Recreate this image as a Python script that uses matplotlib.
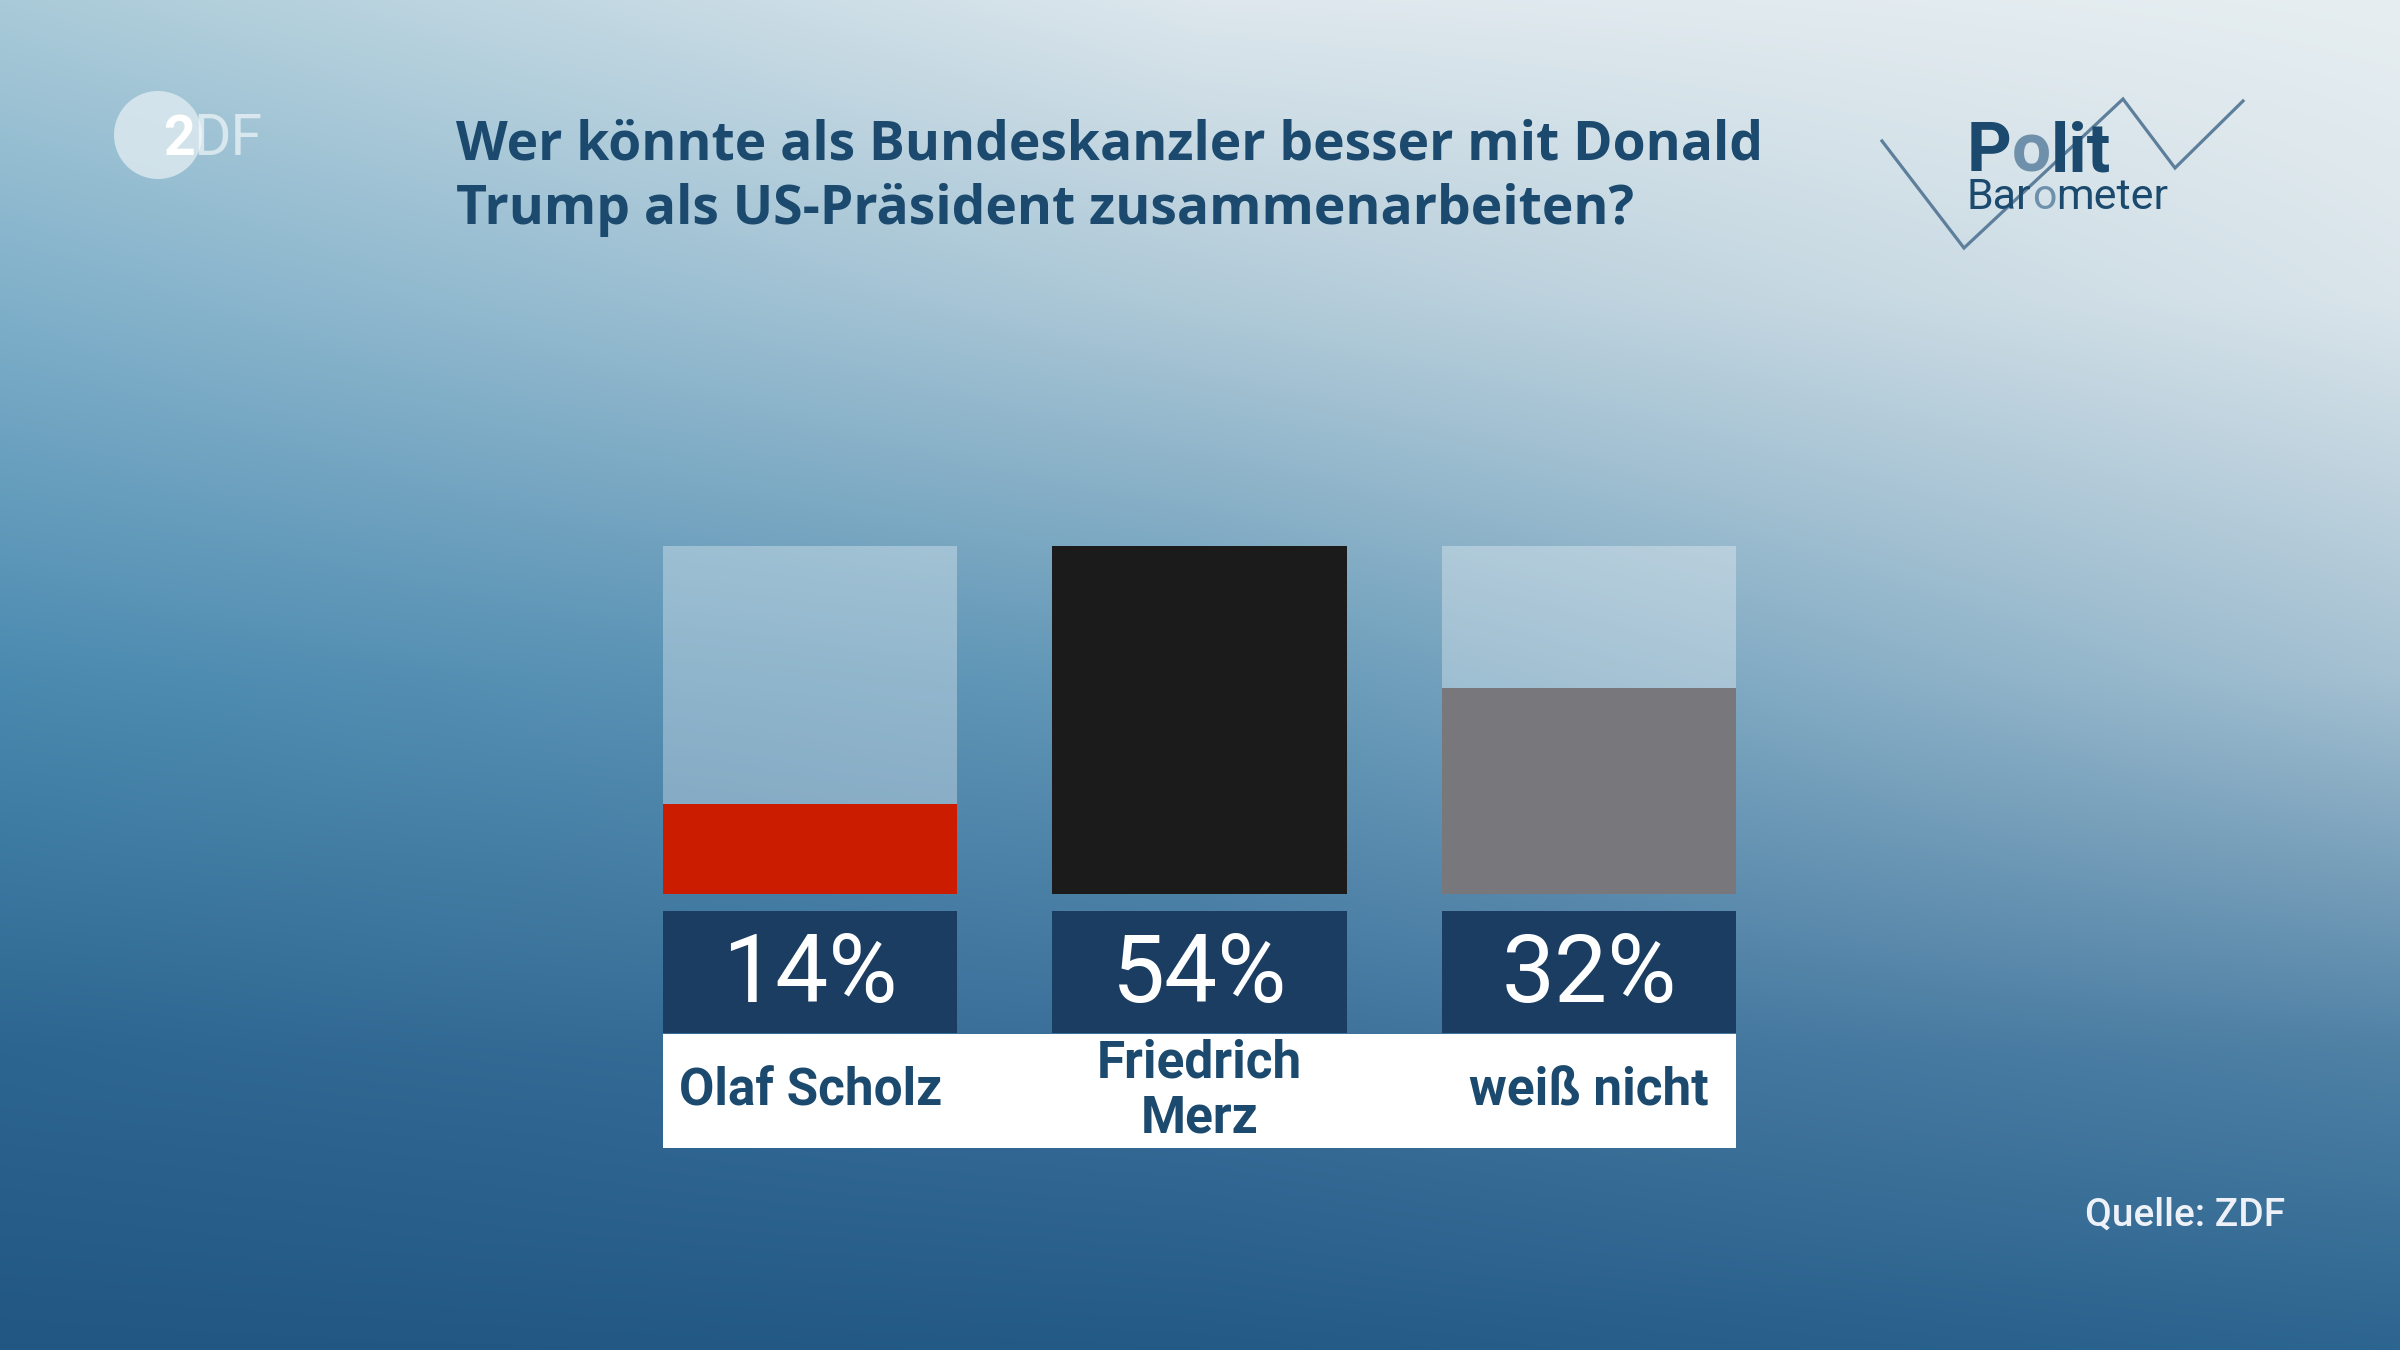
import numpy as np
import matplotlib
matplotlib.use("Agg")
import matplotlib.pyplot as plt
from matplotlib.colors import to_rgb
from matplotlib.patches import Rectangle, Circle
from matplotlib.transforms import blended_transform_factory

categories = ["Olaf Scholz", "Friedrich\nMerz", "weiß nicht"]
values = [14, 54, 32]
value_labels = ["14%", "54%", "32%"]
bar_colors = ["#cc1c00", "#1b1b1b", "#78787c"]
title_lines = ["Wer könnte als Bundeskanzler besser mit Donald",
               "Trump als US-Präsident zusammenarbeiten?"]
source_text = "Quelle: ZDF"

TEXT_BLUE = "#1b4a6e"
BOX_BLUE = "#1c3d62"
FONT = "Roboto"
TITLE_FONT = "Open Sans"

# background gradient control colours (rows top->bottom, cols left->right)
bg_y = [0.0, 0.22, 0.5, 0.78, 1.0]
bg_x = [0.0, 0.5, 1.0]
bg_hex = [
    ["#a9cad8", "#dde7ed", "#e6eef1"],
    ["#80b0ca", "#b0cad8", "#dae5eb"],
    ["#4b8ab0", "#6599b8", "#a5c1d2"],
    ["#2c6690", "#3a6f9a", "#4f81a5"],
    ["#225683", "#245a86", "#2c6590"],
]


def gradient(h=270, w=480):
    ctrl = np.array([[to_rgb(c) for c in row] for row in bg_hex])
    xs = np.linspace(0, 1, w)
    ys = np.linspace(0, 1, h)
    rows = np.zeros((len(bg_y), w, 3))
    for i in range(len(bg_y)):
        for ch in range(3):
            rows[i, :, ch] = np.interp(xs, bg_x, ctrl[i, :, ch])
    img = np.zeros((h, w, 3))
    for j in range(w):
        for ch in range(3):
            img[:, j, ch] = np.interp(ys, bg_y, rows[:, j, ch])
    return img


fig = plt.figure(figsize=(24, 13.5), dpi=100)
ax_bg = fig.add_axes([0, 0, 1, 1])
ax_bg.set_xlim(0, 2400)
ax_bg.set_ylim(1350, 0)
ax_bg.axis("off")
ax_bg.imshow(gradient(), extent=[0, 2400, 1350, 0], aspect="auto",
             interpolation="bilinear", zorder=0)

renderer = fig.canvas.get_renderer()


def text_width(s, **kw):
    t = ax_bg.text(0, 0, s, **kw)
    w = t.get_window_extent(renderer=renderer).width
    t.remove()
    return w


def draw_pieces(x, y, pieces, **kw):
    done = ""
    for s, c in pieces:
        done += s
        px = x + text_width(done, **kw) - text_width(s, **kw) if done != s else x
        ax_bg.text(px, y, s, color=c, ha="left", va="baseline", zorder=3, **kw)


# ZDF logo
ax_bg.add_patch(Circle((158, 135), 44, color="#e4eef3", alpha=0.75, lw=0, zorder=2))
ax_bg.text(163, 155, "2", color="white", fontsize=40, fontweight="bold",
           family=FONT, va="baseline", zorder=3)
ax_bg.text(193, 155, "DF", color=(1, 1, 1, 0.6), fontsize=41,
           family=FONT, va="baseline", zorder=3)

# title
ax_bg.text(456, 159, title_lines[0], color=TEXT_BLUE, fontsize=38.5,
           fontweight="bold", family=TITLE_FONT, va="baseline", zorder=3)
ax_bg.text(456, 224, title_lines[1], color=TEXT_BLUE, fontsize=38.5,
           fontweight="bold", family=TITLE_FONT, va="baseline", zorder=3)

# Politbarometer logo
ax_bg.plot([1882, 1964, 2123, 2175, 2243], [141, 248, 99, 168, 101],
           color="#5d7f9b", lw=2.3, zorder=2, solid_joinstyle="miter")
draw_pieces(1967, 171, [("P", TEXT_BLUE), ("o", "#6f90aa"), ("lit", TEXT_BLUE)],
            fontsize=50, fontweight="bold", family=FONT)
draw_pieces(1967, 209, [("Bar", TEXT_BLUE), ("o", "#6f90aa"), ("meter", TEXT_BLUE)],
            fontsize=31, family=FONT)

# source
ax_bg.text(2285, 1226, source_text, color="#eef2f8", fontsize=28,
           fontweight="medium", family=FONT, ha="right", va="baseline")

# bars
ax = fig.add_axes([663 / 2400, 1 - 894 / 1350, (1736 - 663) / 2400, (894 - 546) / 1350])
ax.axis("off")
x = np.arange(len(categories))
w = 0.756
vmax = max(values)
ax.bar(x, [vmax] * len(x), width=w, color="white", alpha=0.32, lw=0)
ax.bar(x, values, width=w, color=bar_colors, lw=0)
ax.set_xlim(-w / 2, len(x) - 1 + w / 2)
ax.set_ylim(0, vmax)

tr = blended_transform_factory(ax.transData, ax.transAxes)
for xi, lab in zip(x, value_labels):
    ax.add_patch(Rectangle((xi - w / 2, -0.400), w, 0.351, transform=tr,
                           color=BOX_BLUE, lw=0, clip_on=False))
    ax.text(xi, -0.236, lab, transform=tr, ha="center", va="center",
            color="white", fontsize=68, family=FONT, clip_on=False)

ax.add_patch(Rectangle((0, -0.730), 1, 0.328, transform=ax.transAxes,
                       color="white", lw=0, clip_on=False))
for xi, cat in zip(x, categories):
    ax.text(xi, -0.567, cat, transform=tr, ha="center", va="center",
            color=TEXT_BLUE, fontsize=37, fontweight="bold", family=FONT,
            linespacing=1.13, clip_on=False)

fig.savefig("out.png", dpi=100)
